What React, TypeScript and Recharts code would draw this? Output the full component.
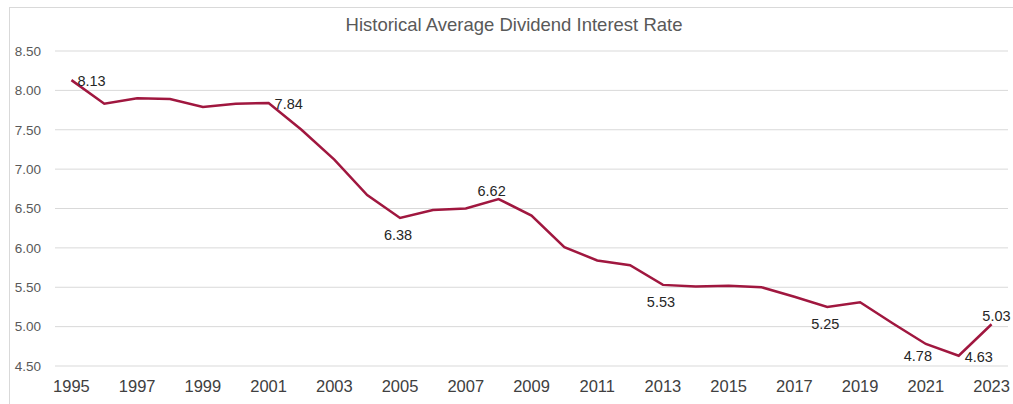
import React from 'react';
import { LineChart, Line, XAxis, YAxis, CartesianGrid, LabelList } from 'recharts';

const years = [
  1995, 1996, 1997, 1998, 1999, 2000, 2001, 2002, 2003, 2004,
  2005, 2006, 2007, 2008, 2009, 2010, 2011, 2012, 2013, 2014,
  2015, 2016, 2017, 2018, 2019, 2020, 2021, 2022, 2023,
];
const rates = [
  8.13, 7.83, 7.9, 7.89, 7.79, 7.83, 7.84, 7.5, 7.12, 6.67,
  6.38, 6.48, 6.5, 6.62, 6.41, 6.01, 5.84, 5.78, 5.53, 5.51,
  5.52, 5.5, 5.38, 5.25, 5.31, 5.04, 4.78, 4.63, 5.03,
];
const labeledYears = [1995, 2001, 2005, 2008, 2013, 2018, 2021, 2022, 2023];
const xTicks = [1995, 1997, 1999, 2001, 2003, 2005, 2007, 2009, 2011, 2013, 2015, 2017, 2019, 2021, 2023];
const yTicks = [4.5, 5.0, 5.5, 6.0, 6.5, 7.0, 7.5, 8.0, 8.5];

// where each data label sits relative to its point
const labelSide: Record<number, string> = {
  1995: 'right',
  2001: 'right',
  2005: 'below',
  2008: 'above',
  2013: 'below',
  2018: 'below',
  2021: 'belowLeft',
  2022: 'right',
  2023: 'aboveEnd',
};

const data = years.map((year, i) => ({
  year,
  rate: rates[i],
  label: labeledYears.includes(year) ? rates[i].toFixed(2) : '',
}));

const FONT = '"Liberation Sans", Arial, sans-serif';

function PointLabel(props: any) {
  const { x, y, value, index } = props;
  if (!value) return null;
  const side = labelSide[years[index]];
  let dx = 0;
  let dy = 0;
  let anchor: 'start' | 'middle' | 'end' = 'middle';
  if (side === 'right') { dx = 6; dy = 1; anchor = 'start'; }
  else if (side === 'below') { dx = -2; dy = 17; }
  else if (side === 'above') { dx = -7; dy = -8; }
  else if (side === 'belowLeft') { dx = -8; dy = 12; }
  else if (side === 'aboveEnd') { dx = 19; dy = -8; anchor = 'end'; }
  return (
    <text x={x + dx} y={y + dy} textAnchor={anchor} dominantBaseline="central"
      fill="#262626" fontSize={14.5} fontFamily={FONT}>
      {value}
    </text>
  );
}

export default function App() {
  return (
    <div style={{ position: 'absolute', left: 0, top: 0, width: 1013, height: 404, overflow: 'hidden', background: '#fff' }}>
      <div style={{ position: 'absolute', left: 9, top: 7, width: 1010, height: 400, borderLeft: '1px solid #d9d9d9', borderTop: '1px solid #d9d9d9' }} />
      <div style={{ position: 'absolute', left: 0, top: 14, width: 1028, textAlign: 'center', fontFamily: FONT, fontSize: 18.5, color: '#595959' }}>
        Historical Average Dividend Interest Rate
      </div>
      <div style={{ position: 'absolute', left: 0, top: 0 }}>
        <LineChart width={1013} height={404} data={data} margin={{ top: 51, right: 5, bottom: 0, left: 0 }}>
          <CartesianGrid vertical={false} stroke="#d9d9d9" />
          <XAxis
            dataKey="year"
            type="number"
            domain={[1994.5, 2023.5]}
            ticks={xTicks}
            axisLine={false}
            tickLine={false}
            tickSize={0}
            tickMargin={14}
            height={38}
            tick={{ fill: '#404040', fontSize: 16.5, fontFamily: FONT }}
          />
          <YAxis
            domain={[4.5, 8.5]}
            ticks={yTicks}
            width={55}
            axisLine={false}
            tickLine={false}
            tickSize={0}
            tickMargin={14}
            tickFormatter={(v: number) => v.toFixed(2)}
            tick={{ fill: '#595959', fontSize: 13.5, fontFamily: FONT }}
          />
          <Line
            type="linear"
            dataKey="rate"
            stroke="#a0173f"
            strokeWidth={2.5}
            dot={false}
            isAnimationActive={false}
          >
            <LabelList dataKey="label" content={<PointLabel />} />
          </Line>
        </LineChart>
      </div>
    </div>
  );
}
